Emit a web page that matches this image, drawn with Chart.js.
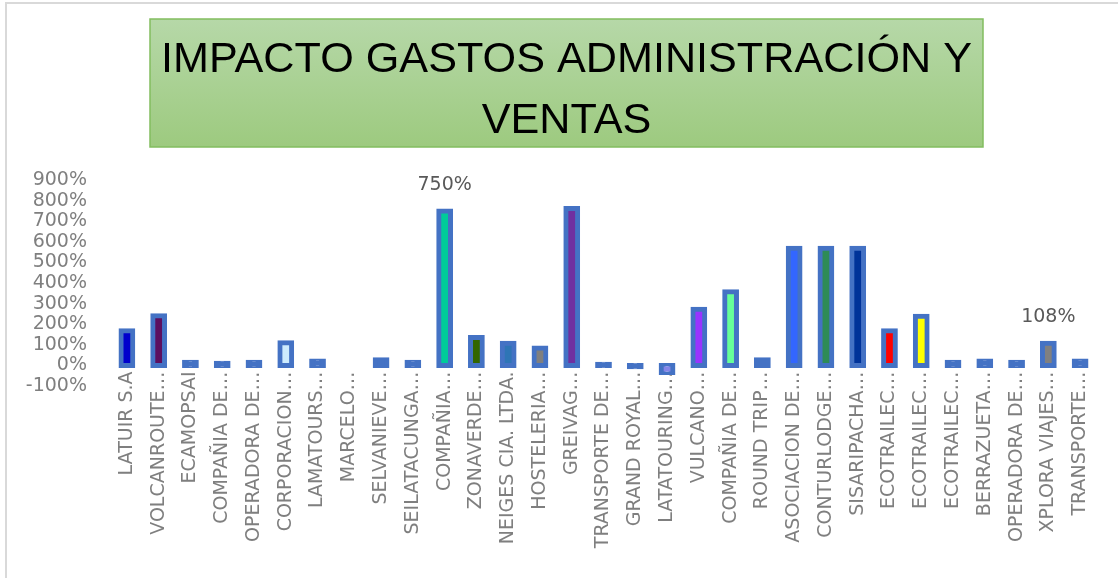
<!DOCTYPE html>
<html>
<head>
<meta charset="utf-8">
<title>Impacto gastos administración y ventas</title>
<script src="https://cdn.jsdelivr.net/npm/chart.js@4.4.1/dist/chart.umd.min.js"></script>
<style>
	html, body { margin: 0; padding: 0; background: #ffffff; }
	#ays-chart-wrap { position: relative; width: 1118px; height: 578px; overflow: hidden; }
	#ays-chart-frame {
		position: absolute; left: 5px; top: 2px; right: -4px; bottom: -4px;
		border-top: 2px solid #d9d9d9; border-left: 2px solid #d9d9d9;
		pointer-events: none;
	}
</style>
</head>
<body>
<div id="ays-chart-wrap">
	<canvas id="ays-chart-bar_chart-1-canvas" width="1118" height="578"></canvas>
	<div id="ays-chart-frame"></div>
</div>
<script>
	'use strict';

	var chartTitle = ['IMPACTO GASTOS ADMINISTRACIÓN Y', 'VENTAS'];

	var categories = [
		'LATUIR S.A', 'VOLCANROUTE…', 'ECAMOPSAI', 'COMPAÑIA DE…', 'OPERADORA DE…',
		'CORPORACION…', 'LAMATOURS…', 'MARCELO…', 'SELVANIEVE…', 'SEILATACUNGA…',
		'COMPAÑIA…', 'ZONAVERDE…', 'NEIGES CIA. LTDA.', 'HOSTELERIA…', 'GREIVAG…',
		'TRANSPORTE DE…', 'GRAND ROYAL…', 'LATATOURING…', 'VULCANO…', 'COMPAÑIA DE…',
		'ROUND TRIP…', 'ASOCIACION DE…', 'CONTURLODGE…', 'SISARIPACHA…', 'ECOTRAILEC…',
		'ECOTRAILEC…', 'ECOTRAILEC…', 'BERRAZUETA…', 'OPERADORA DE…', 'XPLORA VIAJES…',
		'TRANSPORTE…'
	];

	// impact in percent, MARCELO has no value
	var impactValues = [
		168, 241, 15, 10, 15,
		110, 21, null, 28, 15,
		750, 136, 108, 84, 762,
		6, -6, -35, 273, 357,
		28, 569, 569, 569, 168,
		239, 15, 21, 15, 108,
		21
	];

	var yTickValues = [-100, 0, 100, 200, 300, 400, 500, 600, 700, 800, 900];

	// bars that carry a data label
	var labeledIndexes = [10, 29];

	// outline is the same for every bar, inner fill changes
	var outlineColor = '#4472c4';
	var innerColors = [
		'#0000cc', '#5c0f5f', outlineColor, outlineColor, outlineColor,
		'#cdebfd', outlineColor, outlineColor, outlineColor, outlineColor,
		'#00cc99', '#336600', '#2e75b6', '#7f7f7f', '#7030a0',
		outlineColor, outlineColor, '#8585e8', '#9933ff', '#66ff99',
		outlineColor, '#3366ff', '#2e8b57', '#003399', '#ff0000',
		'#ffff00', outlineColor, outlineColor, outlineColor, '#808080',
		outlineColor
	];

	function ImpactChart(canvas) {
		this.canvas = canvas;
		this.chartObject = null;
		this.fontFamily = '"DejaVu Sans", "Liberation Sans", sans-serif';
		this.init();
		return this;
	}

	ImpactChart.prototype.init = function() {
		var _this = this;
		_this.barChartView();
	}

	// Green box with the two title lines, drawn behind the plot
	ImpactChart.prototype.titleBoxPlugin = {
		id: 'titleBox',
		beforeDraw: function(chart, args, opts) {
			var ctx = chart.ctx;
			var w = opts.right - opts.left;
			var h = opts.bottom - opts.top;
			var grad = ctx.createLinearGradient(0, opts.top, 0, opts.bottom);
			grad.addColorStop(0, '#b6d8a8');
			grad.addColorStop(1, '#9dca7f');

			ctx.save();
			ctx.fillStyle = grad;
			ctx.fillRect(opts.left, opts.top, w, h);
			ctx.strokeStyle = '#82bd5f';
			ctx.lineWidth = 1.5;
			ctx.strokeRect(opts.left, opts.top, w, h);

			ctx.font = opts.font;
			ctx.fillStyle = '#000000';
			ctx.textAlign = 'center';
			ctx.textBaseline = 'alphabetic';
			var sx = opts.textWidth / ctx.measureText(opts.lines[0]).width;
			ctx.translate(opts.left + w / 2, 0);
			ctx.scale(sx, 1);
			for (var i = 0; i < opts.lines.length; i++) {
				ctx.fillText(opts.lines[i], 0, opts.baselines[i]);
			}
			ctx.restore();
		}
	};

	// Percent labels above the chosen bars
	ImpactChart.prototype.valueLabelPlugin = {
		id: 'valueLabels',
		afterDatasetsDraw: function(chart, args, opts) {
			var ctx = chart.ctx;
			var meta = chart.getDatasetMeta(0);
			ctx.save();
			ctx.font = opts.font;
			ctx.fillStyle = opts.color;
			ctx.textAlign = 'center';
			ctx.textBaseline = 'middle';
			opts.indexes.forEach(function(i) {
				var bar = meta.data[i];
				ctx.fillText(impactValues[i] + '%', bar.x, bar.y - opts.offset);
			});
			ctx.restore();
		}
	};

	// Load chart by bar chart
	ImpactChart.prototype.barChartView = function() {
		var _this = this;
		var tickFont = { family: _this.fontFamily, size: 19 };

		_this.chartObject = new Chart(_this.canvas, {
			type: 'bar',
			data: {
				labels: categories,
				datasets: [{
					label: 'Impacto',
					data: impactValues,
					backgroundColor: innerColors,
					borderColor: outlineColor,
					borderWidth: 5,
					borderSkipped: false,
					inflateAmount: 2.5,
					barPercentage: 0.37,
					categoryPercentage: 1
				}]
			},
			options: {
				responsive: false,
				animation: false,
				devicePixelRatio: 1,
				layout: {
					padding: { left: 25, right: 22, top: 180, bottom: 192 }
				},
				scales: {
					x: {
						position: { y: 0 },
						grid: { display: false, drawTicks: false },
						border: { display: false },
						ticks: {
							autoSkip: false,
							minRotation: 90,
							maxRotation: 90,
							padding: 6,
							color: '#7f7f7f',
							font: tickFont
						}
					},
					y: {
						min: yTickValues[0],
						max: yTickValues[yTickValues.length - 1],
						afterBuildTicks: function(scale) {
							scale.ticks = yTickValues.map(function(v) { return { value: v }; });
						},
						afterFit: function(scale) {
							scale.width = 86;
						},
						grid: { display: false, drawTicks: false },
						border: { display: false },
						ticks: {
							autoSkip: false,
							padding: 24,
							color: '#7f7f7f',
							font: tickFont,
							callback: function(value) { return value + '%'; }
						}
					}
				},
				plugins: {
					legend: { display: false },
					tooltip: { enabled: false },
					titleBox: {
						lines: chartTitle,
						left: 150,
						right: 983,
						top: 19,
						bottom: 147,
						font: '43px "Liberation Sans", Arial, sans-serif',
						textWidth: 811,
						baselines: [71.5, 133]
					},
					valueLabels: {
						indexes: labeledIndexes,
						font: '19px ' + _this.fontFamily,
						color: '#595959',
						offset: 26
					}
				}
			},
			plugins: [_this.titleBoxPlugin, _this.valueLabelPlugin]
		});
	}

	new ImpactChart(document.getElementById('ays-chart-bar_chart-1-canvas'));
</script>
</body>
</html>
